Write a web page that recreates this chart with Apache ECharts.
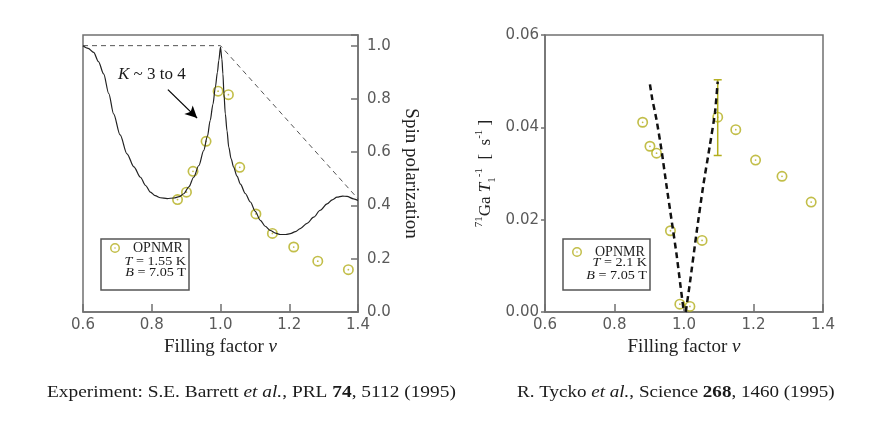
<!DOCTYPE html>
<html style="height: 100%">
<head>
<meta charset="utf-8">
</head>
<body style="height: 100%; margin: 0; background: #fff">
<div id="container" style="width: 872px; height: 427px;"></div>
<script type="text/javascript" src="https://cdn.jsdelivr.net/npm/echarts@6/dist/echarts.min.js"></script>
<script type="text/javascript">
// left panel: spin polarization vs filling factor (Barrett 1995)
var spinPoints = [
    [0.875, 0.422], [0.901, 0.450], [0.920, 0.528], [0.958, 0.641],
    [0.993, 0.829], [1.023, 0.816], [1.056, 0.543], [1.103, 0.368],
    [1.151, 0.295], [1.213, 0.244], [1.283, 0.191], [1.372, 0.159]
];
var spinTheory = [
    [0.6, 1.0], [0.615, 0.99], [0.631, 0.975], [0.645, 0.94], [0.66, 0.894],
    [0.675, 0.82], [0.689, 0.744], [0.708, 0.665], [0.728, 0.594], [0.748, 0.545],
    [0.767, 0.506], [0.782, 0.475], [0.796, 0.45], [0.81, 0.437], [0.825, 0.429],
    [0.845, 0.426], [0.864, 0.428], [0.88, 0.433], [0.893, 0.444], [0.908, 0.47],
    [0.922, 0.506], [0.937, 0.55], [0.951, 0.606], [0.962, 0.66], [0.97, 0.719],
    [0.978, 0.78], [0.985, 0.844], [0.991, 0.9], [0.995, 0.944], [1.0, 0.995],
    [1.004, 0.95], [1.007, 0.894], [1.01, 0.82], [1.014, 0.744], [1.019, 0.68],
    [1.024, 0.619], [1.031, 0.575], [1.038, 0.544], [1.048, 0.51], [1.058, 0.48],
    [1.072, 0.445], [1.087, 0.413], [1.101, 0.378], [1.116, 0.344], [1.13, 0.322],
    [1.145, 0.306], [1.16, 0.296], [1.174, 0.291], [1.19, 0.291], [1.203, 0.294],
    [1.218, 0.302], [1.232, 0.313], [1.252, 0.333], [1.271, 0.356], [1.29, 0.382],
    [1.31, 0.406], [1.325, 0.421], [1.339, 0.431], [1.355, 0.435], [1.368, 0.434],
    [1.387, 0.425], [1.4, 0.419]
];
var spinUpper = [[0.6, 1.0], [1.0, 1.0], [1.4, 0.425]];
var arrowFrom = [0.847, 0.835];
var arrowTo = [0.932, 0.728];

// right panel: 71Ga relaxation rate (Tycko 1995)
var ratePoints = [
    [0.881, 0.0411], [0.902, 0.0359], [0.921, 0.0344], [0.961, 0.0176],
    [0.988, 0.0017], [1.017, 0.0012], [1.052, 0.0155], [1.097, 0.0422],
    [1.149, 0.0395], [1.206, 0.0329], [1.282, 0.0294], [1.366, 0.0238]
];
var rateErrBar = [[1.097, 0.0339, 0.0503]];
var rateFitLeft = [
    [0.902, 0.0493], [0.909, 0.046], [0.921, 0.0416], [0.935, 0.0352],
    [0.950, 0.0272], [0.964, 0.0200], [0.978, 0.0128], [0.990, 0.0056], [0.9995, 0]
];
var rateFitRight = [
    [1.005, 0], [1.017, 0.0063], [1.036, 0.0171], [1.055, 0.0272],
    [1.074, 0.0359], [1.089, 0.0431], [1.097, 0.0499]
];

var serif = 'Liberation Serif';
var olive = '#b3ae1c';
var axisGray = '#707070';
// hollow ring with a small centre dot, like the original markers
var ringDot = 'path://M0,-5A5,5 0 1,1 0,5A5,5 0 1,1 0,-5Z' +
    'M0,-3.5A3.5,3.5 0 1,0 0,3.5A3.5,3.5 0 1,0 0,-3.5Z' +
    'M0,-0.8A0.8,0.8 0 1,1 0,0.8A0.8,0.8 0 1,1 0,-0.8Z';

var dom = document.getElementById('container');
var myChart = echarts.init(dom);

function oneDec(v) {
    return Math.abs(v * 5 - Math.round(v * 5)) < 1e-6 ? v.toFixed(1) : '';
}

var baseX = {
    type: 'value', min: 0.6, max: 1.4, interval: 0.2,
    name: 'Filling factor {it|\u03bd}', nameLocation: 'middle', nameGap: 23,
    nameTextStyle: {
        fontFamily: serif, fontSize: 19, color: '#222',
        rich: { it: { fontFamily: serif, fontSize: 19, fontStyle: 'italic', color: '#222' } }
    },
    axisLine: { lineStyle: { color: axisGray, width: 1.5 } },
    axisTick: { inside: true, length: 8, lineStyle: { color: axisGray, width: 1.5 } },
    axisLabel: {
        margin: 6, fontFamily: 'DejaVu Sans', fontSize: 15, color: '#5a5a5a',
        formatter: function (v) { return v.toFixed(1); }
    },
    splitLine: { show: false }
};

function note(x, y, txt, size, sx, align) {
    return {
        type: 'text', x: x, y: y, scaleX: sx, style: {
            text: txt, align: align, verticalAlign: 'middle',
            font: size + 'px ' + serif, fill: '#1a1a1a',
            rich: {
                i: { fontStyle: 'italic', fontFamily: serif, fontSize: size },
                b: { fontWeight: 'bold', fontFamily: serif, fontSize: size }
            }
        }
    };
}

option = {
    animation: false,
    backgroundColor: '#fff',
    grid: [
        { left: 83, right: 514, top: 35, bottom: 115, show: true, borderColor: axisGray, borderWidth: 1.5 },
        { left: 545, right: 49, top: 35, bottom: 115, show: true, borderColor: axisGray, borderWidth: 1.5 }
    ],
    xAxis: [
        Object.assign({}, baseX, { gridIndex: 0 }),
        Object.assign({}, baseX, { gridIndex: 1 })
    ],
    yAxis: [{
        gridIndex: 0, type: 'value', position: 'right', min: 0, max: 1.04, interval: 0.2,
        name: 'Spin polarization', nameLocation: 'middle', nameRotate: -90, nameGap: 43,
        nameTextStyle: { fontFamily: serif, fontSize: 19, color: '#222' },
        axisLine: { lineStyle: { color: axisGray, width: 1.5 } },
        axisTick: { inside: true, length: 7, lineStyle: { color: axisGray, width: 1.5 } },
        axisLabel: { margin: 9, fontFamily: 'DejaVu Sans', fontSize: 15, color: '#5a5a5a', formatter: oneDec },
        splitLine: { show: false }
    }, {
        gridIndex: 1, type: 'value', min: 0, max: 0.06, interval: 0.02,
        name: '{sup|71}Ga {it|T}{sub|1}{sup|-1}  [  s{sup|-1} ]', nameLocation: 'middle', nameGap: 47,
        nameTextStyle: {
            fontFamily: serif, fontSize: 17, color: '#222', lineHeight: 24,
            rich: {
                sup: { fontFamily: serif, fontSize: 11, verticalAlign: 'top', color: '#222', lineHeight: 24 },
                sub: { fontFamily: serif, fontSize: 11, verticalAlign: 'bottom', color: '#222', lineHeight: 24 },
                it: { fontFamily: serif, fontSize: 17, fontStyle: 'italic', color: '#222', lineHeight: 24 }
            }
        },
        axisLine: { lineStyle: { color: axisGray, width: 1.5 } },
        axisTick: { inside: false, length: 4, lineStyle: { color: axisGray, width: 1.5 } },
        axisLabel: {
            margin: 6, fontFamily: 'DejaVu Sans', fontSize: 15, color: '#5a5a5a',
            formatter: function (v) { return v.toFixed(2); }
        },
        splitLine: { show: false }
    }],
    legend: [{
        left: 110, top: 241, data: ['OPNMR'], itemWidth: 10, itemHeight: 10, padding: 0,
        selectedMode: false,
        textStyle: { fontFamily: serif, fontSize: 14, color: '#222', padding: [0, 0, 0, 8] }
    }, {
        left: 572, top: 245, data: ['OPNMR'], itemWidth: 10, itemHeight: 10, padding: 0,
        selectedMode: false,
        textStyle: { fontFamily: serif, fontSize: 14, color: '#222', padding: [0, 0, 0, 8] }
    }],
    series: [{
        type: 'line', xAxisIndex: 0, yAxisIndex: 0, data: spinUpper,
        showSymbol: false, silent: true,
        lineStyle: { color: '#555', width: 1, type: [5, 4] }
    }, {
        type: 'line', xAxisIndex: 0, yAxisIndex: 0, data: spinTheory,
        showSymbol: false, smooth: 0.3, smoothMonotone: 'x',
        lineStyle: { color: '#222', width: 1.2 },
        markLine: {
            silent: true, symbol: ['none', 'arrow'], symbolSize: [9, 12],
            lineStyle: { color: '#000', width: 1.3, type: 'solid' },
            label: { show: false },
            data: [[{ coord: arrowFrom }, { coord: arrowTo }]]
        }
    }, {
        name: 'OPNMR', type: 'scatter', xAxisIndex: 0, yAxisIndex: 0, data: spinPoints,
        symbol: ringDot, symbolSize: 11,
        itemStyle: { color: olive }
    }, {
        type: 'line', xAxisIndex: 1, yAxisIndex: 1, data: rateFitLeft,
        showSymbol: false, smooth: 0.2,
        lineStyle: { color: '#111', width: 2.5, type: [6, 4] }
    }, {
        type: 'line', xAxisIndex: 1, yAxisIndex: 1, data: rateFitRight,
        showSymbol: false, smooth: 0.2,
        lineStyle: { color: '#111', width: 2.5, type: [6, 4] }
    }, {
        type: 'custom', xAxisIndex: 1, yAxisIndex: 1, data: rateErrBar,
        renderItem: function (params, api) {
            var lo = api.coord([api.value(0), api.value(1)]);
            var hi = api.coord([api.value(0), api.value(2)]);
            var w = 4;
            var st = { stroke: olive, lineWidth: 1.5 };
            return {
                type: 'group', children: [
                    { type: 'line', shape: { x1: lo[0], y1: lo[1], x2: hi[0], y2: hi[1] }, style: st },
                    { type: 'line', shape: { x1: lo[0] - w, y1: lo[1], x2: lo[0] + w, y2: lo[1] }, style: st },
                    { type: 'line', shape: { x1: hi[0] - w, y1: hi[1], x2: hi[0] + w, y2: hi[1] }, style: st }
                ]
            };
        }
    }, {
        name: 'OPNMR', type: 'scatter', xAxisIndex: 1, yAxisIndex: 1, data: ratePoints,
        symbol: ringDot, symbolSize: 11,
        itemStyle: { color: olive }
    }],
    graphic: [
        { type: 'rect', shape: { x: 101, y: 239, width: 88, height: 51 }, style: { fill: 'none', stroke: '#555', lineWidth: 1.5 } },
        { type: 'rect', shape: { x: 563, y: 239, width: 87, height: 51 }, style: { fill: 'none', stroke: '#555', lineWidth: 1.5 } },
        note(186, 261.5, '{i|T} = 1.55 K', 12, 1.18, 'right'),
        note(186, 273, '{i|B} = 7.05 T', 12, 1.18, 'right'),
        note(647, 263, '{i|T} = 2.1 K', 12, 1.18, 'right'),
        note(647, 276, '{i|B} = 7.05 T', 12, 1.18, 'right'),
        note(118, 75, '{i|K} ~ 3 to 4', 17, 1, 'left'),
        note(47, 393, 'Experiment: S.E. Barrett {i|et al.}, PRL {b|74}, 5112 (1995)', 17, 1.14, 'left'),
        note(517, 393, 'R. Tycko {i|et al.}, Science {b|268}, 1460 (1995)', 17, 1.12, 'left')
    ]
};

if (option && typeof option === 'object') {
    myChart.setOption(option);
}
</script>
</body>
</html>
